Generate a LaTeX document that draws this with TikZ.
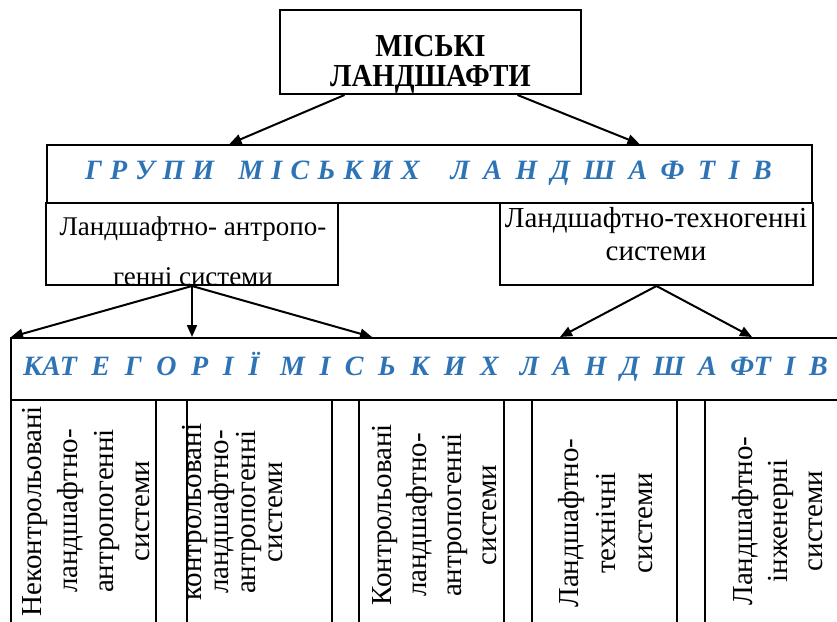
\documentclass[tikz,border=0pt]{standalone}
\usepackage{fontspec}
\setmainfont{Liberation Serif}
\newfontfamily\narrowserif[FakeStretch=0.9]{Liberation Serif}
\usetikzlibrary{arrows.meta}
\definecolor{catblue}{RGB}{46,116,181}

\begin{document}
\begin{tikzpicture}[x=1pt,y=-1pt]
\tikzstyle{box}=[rectangle,draw,line width=2pt,inner sep=0pt]
\tikzstyle{colbox}=[box,minimum width=145pt,minimum height=240pt]
\tikzstyle{headline}=[font=\bfseries\itshape\fontsize{28}{30}\selectfont,text=catblue,anchor=base west,inner sep=0pt]
\tikzstyle{systext}=[align=center,inner sep=0pt]
\tikzstyle{coltext}=[rotate=90,align=center,inner sep=0pt]
\tikzstyle{arrowline}=[-{Triangle[length=12pt,width=10pt]},line width=2pt]
\useasboundingbox (0,0) rectangle (837,621);
\clip (0,0) rectangle (837,621);
\node[box,minimum width=301pt,minimum height=84pt] (city) at (430.5,52) {};
\node[font=\narrowserif\bfseries\fontsize{32}{30}\selectfont,align=center,inner sep=0pt] (citytext) at (430.5,64.5) {МІСЬКІ\\ЛАНДШАФТИ};
\node[box,minimum width=765pt,minimum height=58pt] (groups) at (429.5,174) {};
\node[headline] (groupstext) at (85,179) {{\spaceskip=8pt Г Р У П И}\hspace{24pt}{\spaceskip=8.3pt М І С Ь К И Х}\hspace{31pt}{\spaceskip=13.5pt Л А Н Д Ш А Ф Т І В}};
\node[box,minimum width=292pt,minimum height=82pt] (antsys) at (192,244) {};
\node[box,minimum width=313pt,minimum height=82pt] (techsys) at (656.5,244) {};
\node[systext,font=\fontsize{27}{50}\selectfont] (antsystext) at (193,251.5) {Ландшафтно- антропо-\\генні системи};
\node[systext,font=\fontsize{29}{33}\selectfont] (techsystext) at (656,234) {Ландшафтно-техногенні\\системи};
\node[box,minimum width=844pt,minimum height=62pt] (cats) at (433,369) {};
\node[headline] (catstext) at (23,375) {{\spaceskip=14.6pt КАТ Е Г О Р І Ї}\hspace{21pt}{\spaceskip=14.5pt М І С Ь К И Х}\hspace{21pt}{\spaceskip=13.6pt Л А Н Д Ш А ФТ І В}};
% columns
\node[colbox] (col1) at (83.5,520) {};
\node[colbox] (col2) at (259,520) {};
\node[colbox] (col3) at (431.5,520) {};
\node[colbox] (col4) at (604.5,520) {};
\node[colbox] (col5) at (777,520) {};
\node[coltext,font=\fontsize{29}{36}\selectfont] (col1text) at (86.5,511) {Неконтрольовані\\ландшафтно-\\антропогенні\\системи};
\node[coltext,font=\fontsize{29}{27}\selectfont] (col2text) at (232.5,512) {контрольовані\\ландшафтно-\\антропогенні\\системи};
\node[coltext,font=\fontsize{29}{35}\selectfont] (col3text) at (434.5,515) {Контрольовані\\ландшафтно-\\антропогенні\\системи};
\node[coltext,font=\fontsize{29}{37}\selectfont] (col4text) at (605.5,523) {Ландшафтно-\\технічні\\системи};
\node[coltext,font=\fontsize{29}{35}\selectfont] (col5text) at (778,521) {Ландшафтно-\\інженерні\\системи};
% arrows
\draw[arrowline] ([xshift=-86pt]city.south) -- ([xshift=-200pt]groups.north);
\draw[arrowline] ([xshift=87pt]city.south) -- ([xshift=210pt]groups.north);
\draw[arrowline] (antsys.south) -- ([xshift=-422pt]cats.north);
\draw[arrowline] (antsys.south) -- ([xshift=-241pt]cats.north);
\draw[arrowline] (antsys.south) -- ([xshift=-61pt]cats.north);
\draw[arrowline] (techsys.south) -- ([xshift=127pt]cats.north);
\draw[arrowline] (techsys.south) -- ([xshift=319pt]cats.north);
\end{tikzpicture}
\end{document}
